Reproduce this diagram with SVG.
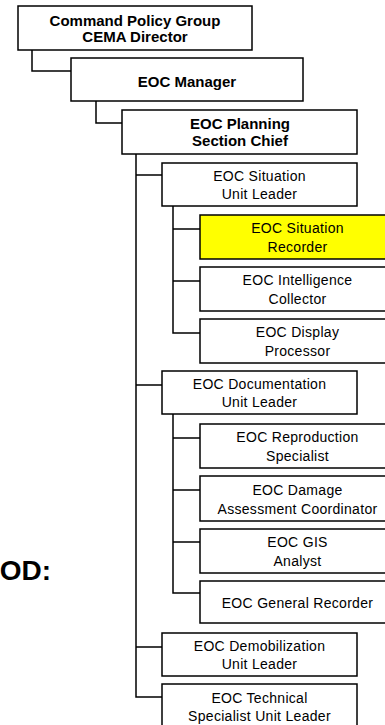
<svg xmlns="http://www.w3.org/2000/svg" width="385" height="725" viewBox="0 0 385 725">
<style>
.box{fill:#fff;stroke:#000;stroke-width:1.5}
.hl{fill:#ffff00;stroke:#000;stroke-width:1.5}
.b{font-family:"Liberation Sans",Arial,sans-serif;font-weight:bold;font-size:15px;text-anchor:middle;fill:#000}
.r{font-family:"Liberation Sans",Arial,sans-serif;font-size:14px;letter-spacing:0.3px;text-anchor:middle;fill:#000}
.c{fill:none;stroke:#000;stroke-width:1.5}
</style>
<rect width="385" height="725" fill="#fff"/>
<text x="51" y="580" style="font-family:'Liberation Sans',Arial,sans-serif;font-weight:bold;font-size:28px;text-anchor:end">OD:</text>
<g id="connectors">
<path class="c" d="M32,50V71H71"/>
<path class="c" d="M96,101V123H122"/>
<path class="c" d="M136,154V697H162M136,175H162M136,385H162M136,647H162"/>
<path class="c" d="M173,206V333H200M173,229H200M173,281H200"/>
<path class="c" d="M173,414V593H200M173,438H200M173,490H200M173,542H200"/>
</g>
<g id="n1"><rect class="box" x="18" y="6" width="234" height="44"/><text class="b" x="135" y="26">Command Policy Group</text><text class="b" x="135" y="41.5">CEMA Director</text></g>
<g id="n2"><rect class="box" x="71" y="58" width="232" height="43"/><text class="b" x="187" y="87">EOC Manager</text></g>
<g id="n3"><rect class="box" x="122" y="110" width="235" height="44"/><text class="b" x="240" y="129">EOC Planning</text><text class="b" x="240" y="146">Section Chief</text></g>
<g id="n4"><rect class="box" x="162" y="163" width="195" height="43"/><text class="r" x="259.5" y="181">EOC Situation</text><text class="r" x="259.5" y="199">Unit Leader</text></g>
<g id="n5"><rect class="hl" x="200" y="215" width="195" height="44"/><text class="r" x="297.5" y="233">EOC Situation</text><text class="r" x="297.5" y="252">Recorder</text></g>
<g id="n6"><rect class="box" x="200" y="267" width="195" height="44"/><text class="r" x="297.5" y="285">EOC Intelligence</text><text class="r" x="297.5" y="304">Collector</text></g>
<g id="n7"><rect class="box" x="200" y="319" width="195" height="44"/><text class="r" x="297.5" y="337">EOC Display</text><text class="r" x="297.5" y="356">Processor</text></g>
<g id="n8"><rect class="box" x="162" y="371" width="195" height="43"/><text class="r" x="259.5" y="389">EOC Documentation</text><text class="r" x="259.5" y="407">Unit Leader</text></g>
<g id="n9"><rect class="box" x="200" y="424" width="195" height="44"/><text class="r" x="297.5" y="442">EOC Reproduction</text><text class="r" x="297.5" y="461">Specialist</text></g>
<g id="n10"><rect class="box" x="200" y="476" width="195" height="45"/><text class="r" x="297.5" y="495">EOC Damage</text><text class="r" x="297.5" y="514">Assessment Coordinator</text></g>
<g id="n11"><rect class="box" x="200" y="529" width="195" height="44"/><text class="r" x="297.5" y="547">EOC GIS</text><text class="r" x="297.5" y="566">Analyst</text></g>
<g id="n12"><rect class="box" x="200" y="581" width="195" height="42"/><text class="r" x="297.5" y="608">EOC General Recorder</text></g>
<g id="n13"><rect class="box" x="162" y="633" width="195" height="43"/><text class="r" x="259.5" y="651">EOC Demobilization</text><text class="r" x="259.5" y="669">Unit Leader</text></g>
<g id="n14"><rect class="box" x="162" y="684" width="195" height="45"/><text class="r" x="259.5" y="703">EOC Technical</text><text class="r" x="259.5" y="721">Specialist Unit Leader</text></g>
</svg>
